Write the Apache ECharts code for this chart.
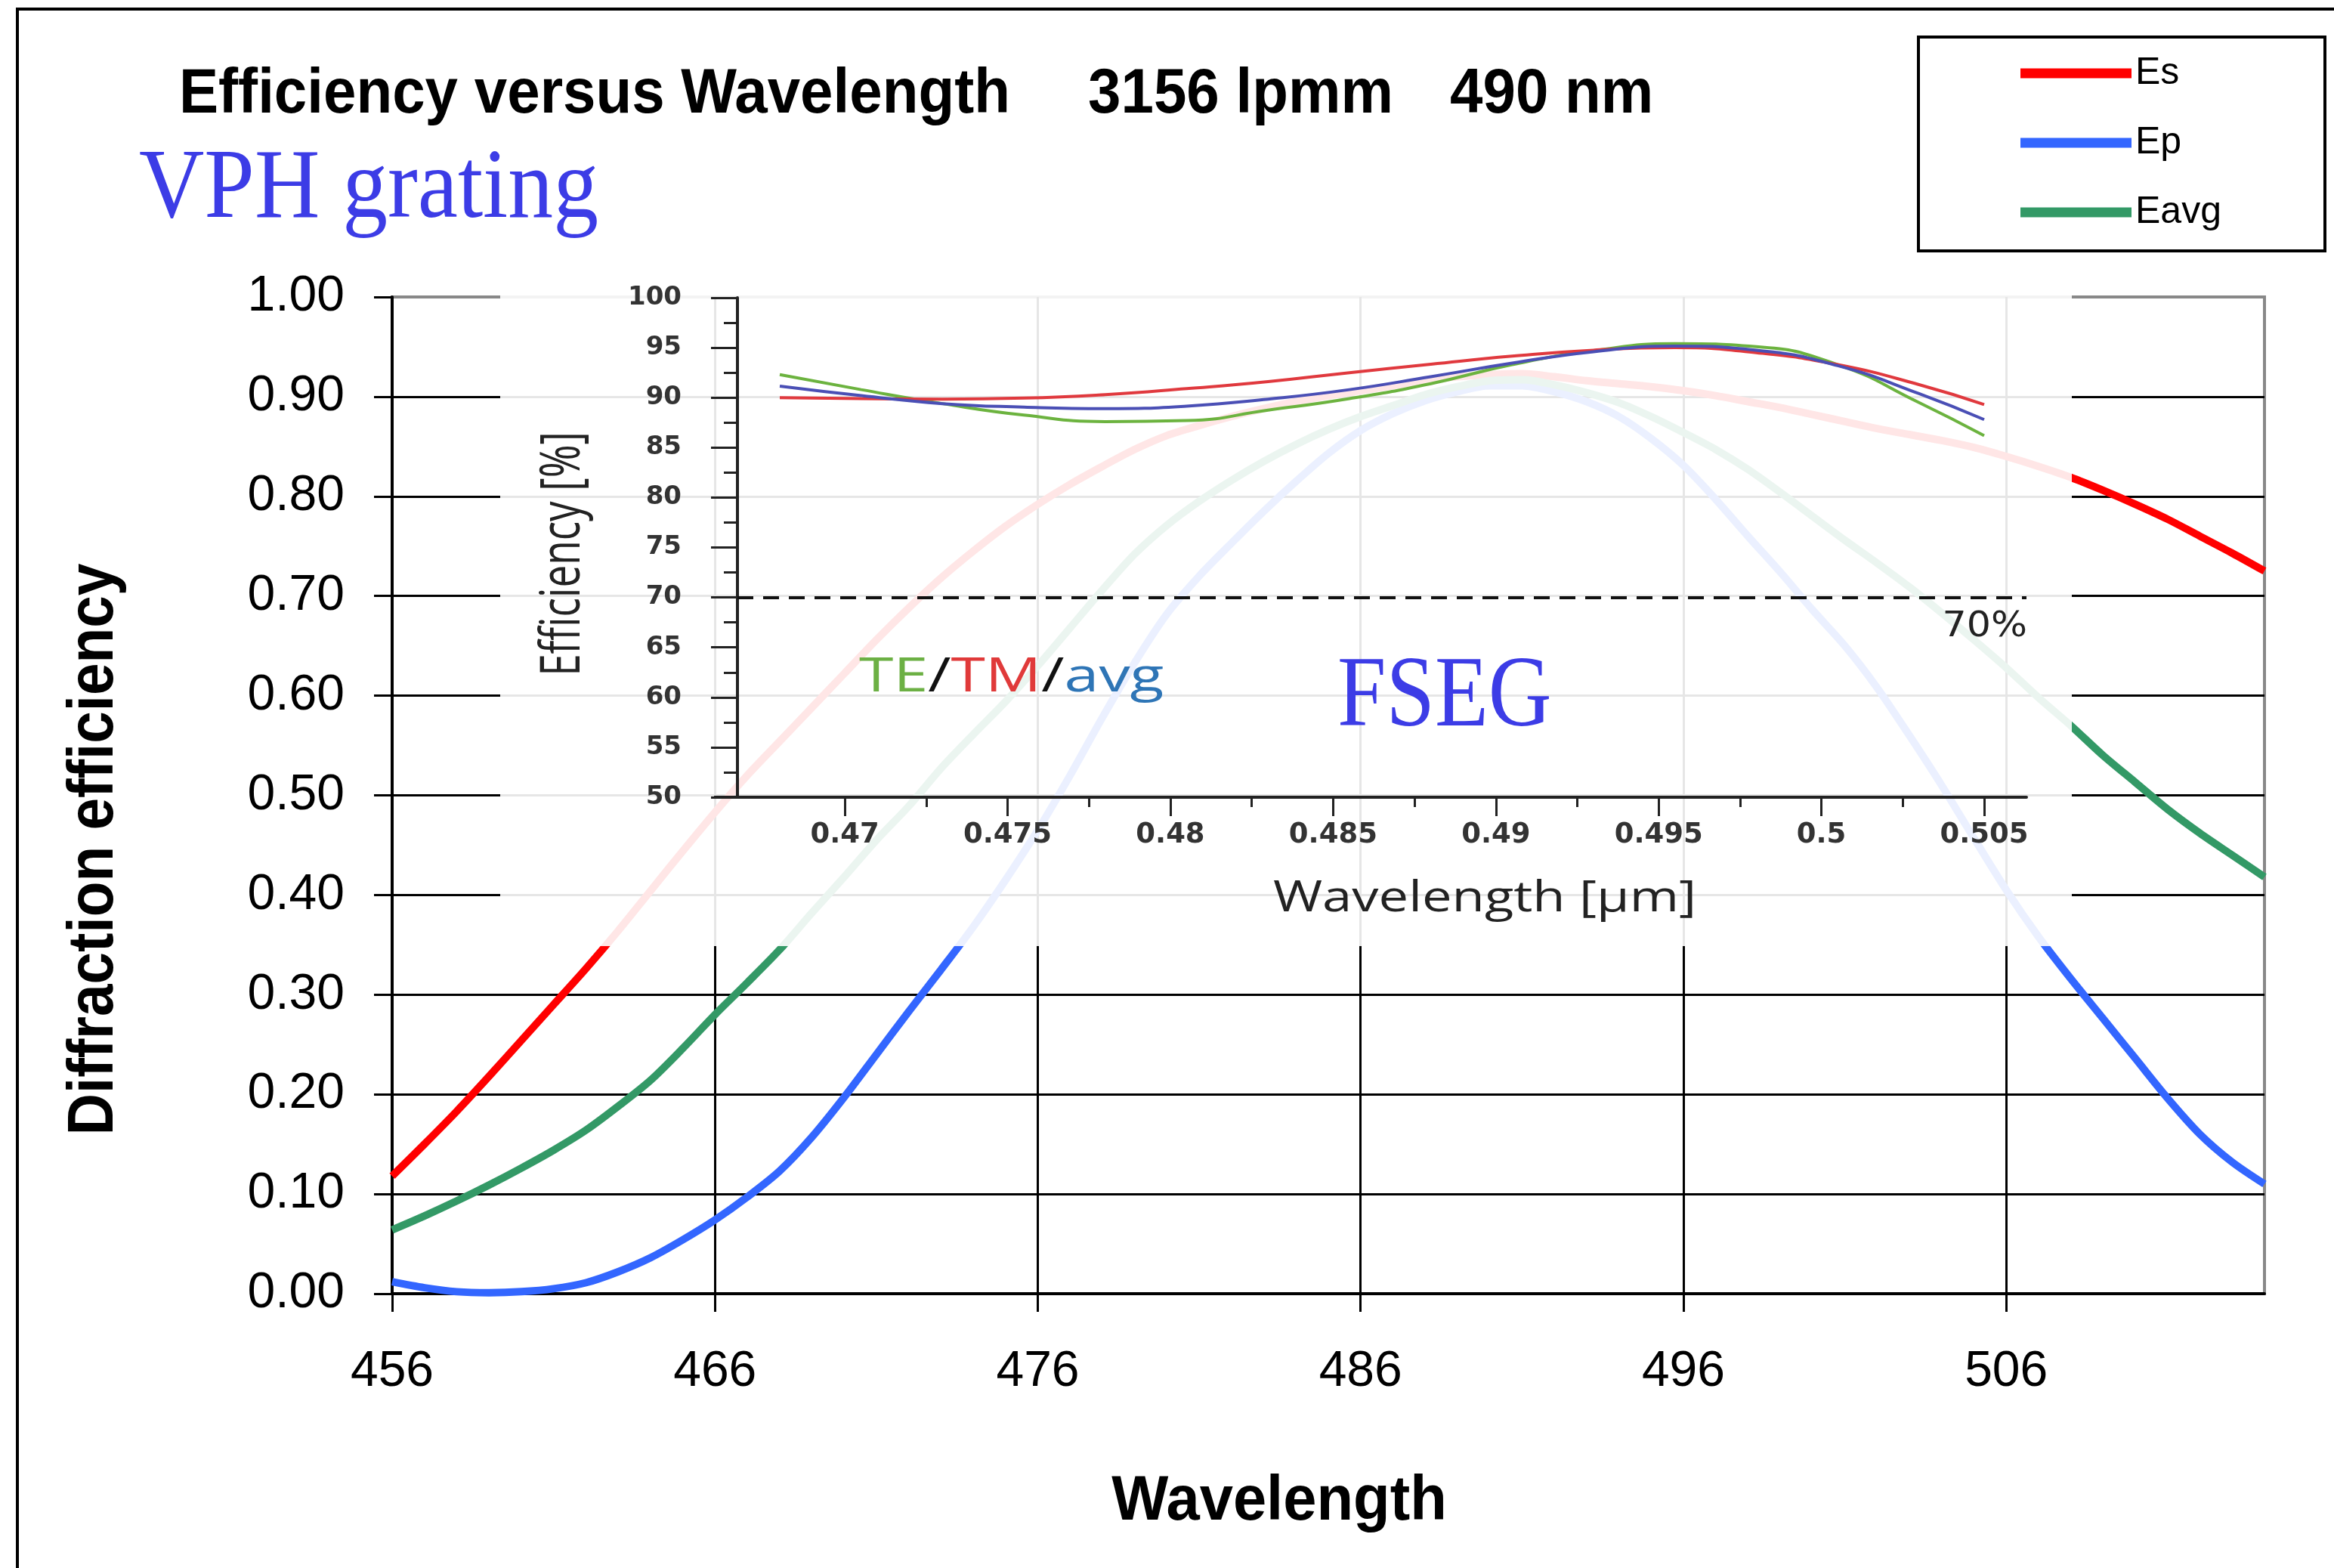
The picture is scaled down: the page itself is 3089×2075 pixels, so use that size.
<!DOCTYPE html>
<html><head><meta charset="utf-8">
<script src="https://cdn.jsdelivr.net/npm/echarts@6/dist/echarts.min.js"></script>
<style>html,body{margin:0;padding:0;background:#fff}#c{width:3089px;height:2075px}</style>
</head><body><div id="c"></div>
<script>
// ---- main chart data (wavelength in nm, efficiency 0..1) ----
const wavelengths = [456,457,458,459,460,461,462,463,464,465,466,467,468,469,470,471,472,473,474,475,476,477,478,479,480,481,482,483,484,485,486,487,488,489,490,491,492,493,494,495,496,497,498,499,500,501,502,503,504,505,506,507,508,509,510,511,512,513,514];
const esValues = [0.118,0.150,0.183,0.218,0.254,0.290,0.326,0.364,0.404,0.444,0.483,0.520,0.554,0.588,0.622,0.656,0.688,0.718,0.745,0.770,0.792,0.812,0.830,0.847,0.861,0.871,0.880,0.888,0.895,0.901,0.906,0.911,0.916,0.920,0.922,0.923,0.920,0.916,0.913,0.910,0.906,0.901,0.895,0.889,0.882,0.875,0.868,0.862,0.856,0.849,0.840,0.830,0.819,0.806,0.792,0.777,0.760,0.743,0.725];
const epValues = [0.012,0.006,0.002,0.001,0.002,0.005,0.011,0.022,0.036,0.054,0.074,0.097,0.123,0.157,0.197,0.240,0.283,0.325,0.368,0.415,0.465,0.520,0.578,0.633,0.682,0.720,0.753,0.785,0.815,0.843,0.866,0.883,0.896,0.905,0.911,0.911,0.905,0.895,0.880,0.858,0.831,0.797,0.760,0.724,0.686,0.650,0.608,0.560,0.510,0.457,0.405,0.358,0.316,0.276,0.236,0.196,0.160,0.132,0.110];
const eavgValues = [0.064,0.078,0.093,0.109,0.126,0.144,0.164,0.188,0.214,0.246,0.280,0.312,0.345,0.382,0.418,0.455,0.489,0.527,0.561,0.594,0.630,0.668,0.706,0.742,0.771,0.795,0.816,0.835,0.852,0.867,0.880,0.891,0.902,0.910,0.916,0.917,0.912,0.904,0.894,0.880,0.864,0.847,0.827,0.804,0.780,0.756,0.733,0.709,0.683,0.656,0.628,0.598,0.570,0.540,0.513,0.486,0.462,0.440,0.418];
const xTickValues = [456,466,476,486,496,506];

// ---- inset (FSEG) data (wavelength in um, efficiency %) ----
const insetWavelengths = [0.468,0.4705,0.473,0.4755,0.478,0.4805,0.483,0.4855,0.488,0.4905,0.493,0.4955,0.498,0.5005,0.503,0.505];
const teValues  = [92.3,90.8,89.4,88.25,87.6,87.7,88.75,89.9,91.4,93.3,94.7,95.4,95.1,93.3,89.5,86.2];
const tmValues  = [90.0,89.9,89.85,89.95,90.3,90.9,91.6,92.5,93.35,94.15,94.75,95.0,94.5,93.3,91.3,89.3];
const avgValues = [91.15,90.2,89.4,89.05,88.9,89.15,89.85,90.8,92.1,93.45,94.6,95.15,94.75,93.2,90.4,87.8];
const insetXTicks = [0.47,0.475,0.48,0.485,0.49,0.495,0.5,0.505];
const insetXMinorTicks = [0.4725,0.4775,0.4825,0.4875,0.4925,0.4975,0.5025];
const thresholdValue = 70;

const pairs = (xs, ys) => xs.map((x, i) => [x, ys[i]]);

const chart = echarts.init(document.getElementById('c'), null, {renderer: 'canvas', width: 3089, height: 2075});

const txt = (o) => Object.assign({type: 'text'}, o);

const option = {
  animation: false,
  backgroundColor: '#ffffff',
  legend: {
    data: ['Es', 'Ep', 'Eavg'],
    orient: 'vertical', left: 2674, top: 72, padding: 0, itemGap: 42,
    itemWidth: 147, itemHeight: 13, icon: 'rect', z: 5,
    textStyle: {fontFamily: 'Liberation Sans', fontSize: 50, color: '#000', lineHeight: 50}
  },
  grid: [
    {left: 519, right: 92, top: 393, bottom: 363, show: true, borderColor: '#888', borderWidth: 4, backgroundColor: 'transparent'},
    {left: 976, right: 407, top: 394, bottom: 1020}
  ],
  xAxis: [
    {type: 'value', gridIndex: 0, min: 456, max: 514, position: 'bottom',
     axisLine: {show: true, onZero: false, lineStyle: {color: '#000', width: 4}},
     axisTick: {show: true, length: 24, customValues: xTickValues, lineStyle: {color: '#000', width: 3}},
     axisLabel: {customValues: xTickValues, margin: 71, fontFamily: 'Liberation Sans', fontSize: 66, color: '#000'},
     splitLine: {show: true, lineStyle: {color: '#000', width: 3}}},
    {type: 'value', gridIndex: 1, min: 0.4667, max: 0.5063, position: 'bottom', z: 20,
     axisLine: {show: true, onZero: false, lineStyle: {color: '#222', width: 4}},
     axisTick: {show: true, length: 25, customValues: insetXTicks, lineStyle: {color: '#222', width: 3}},
     axisLabel: {customValues: insetXTicks, margin: 32, formatter: v => String(+(+v).toFixed(4)),
                 fontFamily: 'DejaVu Sans', fontWeight: 'bold', fontSize: 37, color: '#333'},
     splitLine: {show: false}},
    {type: 'value', gridIndex: 1, min: 0.4667, max: 0.5063, position: 'bottom', z: 20,
     axisLine: {show: false, onZero: false},
     axisTick: {show: true, length: 13, customValues: insetXMinorTicks, lineStyle: {color: '#222', width: 3}},
     axisLabel: {show: false}, splitLine: {show: false}}
  ],
  yAxis: [
    {type: 'value', gridIndex: 0, min: 0, max: 1, interval: 0.1,
     axisLine: {show: true, lineStyle: {color: '#000', width: 4}},
     axisTick: {show: true, length: 24, lineStyle: {color: '#000', width: 3}},
     axisLabel: {formatter: v => v.toFixed(2), margin: 63, fontFamily: 'Liberation Sans', fontSize: 66, color: '#000'},
     splitLine: {show: true, showMaxLine: false, lineStyle: {color: '#000', width: 3}}},
    {type: 'value', gridIndex: 1, min: 50, max: 100, interval: 5, z: 20,
     axisLine: {show: true, onZero: false, lineStyle: {color: '#222', width: 4}},
     axisTick: {show: true, length: 35, lineStyle: {color: '#222', width: 3}},
     minorTick: {show: true, splitNumber: 2, length: 18, lineStyle: {color: '#222', width: 3}},
     axisLabel: {margin: 74, fontFamily: 'DejaVu Sans', fontWeight: 'bold', fontSize: 34, color: '#333'},
     splitLine: {show: false}}
  ],
  series: [
    {type: 'line', name: 'Es', xAxisIndex: 0, yAxisIndex: 0, data: pairs(wavelengths, esValues), smooth: 0.3,
     symbol: 'none', showSymbol: false, lineStyle: {color: '#ff0000', width: 10}, itemStyle: {color: '#ff0000'}, z: 2},
    {type: 'line', name: 'Ep', xAxisIndex: 0, yAxisIndex: 0, data: pairs(wavelengths, epValues), smooth: 0.3,
     symbol: 'none', showSymbol: false, lineStyle: {color: '#3366ff', width: 10}, itemStyle: {color: '#3366ff'}, z: 2},
    {type: 'line', name: 'Eavg', xAxisIndex: 0, yAxisIndex: 0, data: pairs(wavelengths, eavgValues), smooth: 0.3,
     symbol: 'none', showSymbol: false, lineStyle: {color: '#339966', width: 10}, itemStyle: {color: '#339966'}, z: 2},
    {type: 'line', name: 'TE', xAxisIndex: 1, yAxisIndex: 1, data: pairs(insetWavelengths, teValues),
     smooth: 0.5, symbol: 'none', lineStyle: {color: '#6cb33f', width: 4}, z: 20,
     markLine: {silent: true, z: 25, symbol: 'none', label: {show: false},
                lineStyle: {type: [21, 13], color: '#111', width: 4, opacity: 1}, data: [{yAxis: thresholdValue}]}},
    {type: 'line', name: 'TM', xAxisIndex: 1, yAxisIndex: 1, data: pairs(insetWavelengths, tmValues),
     smooth: 0.5, symbol: 'none', lineStyle: {color: '#e0393e', width: 4}, z: 20},
    {type: 'line', name: 'avg', xAxisIndex: 1, yAxisIndex: 1, data: pairs(insetWavelengths, avgValues),
     smooth: 0.5, symbol: 'none', lineStyle: {color: '#4a4fb5', width: 4}, z: 20}
  ],
  graphic: {elements: [
    {type: 'rect', z: 0, shape: {x: 23, y: 12, width: 3300, height: 2300}, style: {fill: 'none', stroke: '#000', lineWidth: 4}},
    txt({x: 237, y: 126, scaleX: 0.93, z: 5, style: {text: 'Efficiency versus Wavelength', fontFamily: 'Liberation Sans', fontWeight: 'bold', fontSize: 84, fill: '#000', align: 'left', textAlign: 'left', verticalAlign: 'middle', textVerticalAlign: 'middle'}}),
    txt({x: 1440, y: 126, scaleX: 0.93, z: 5, style: {text: '3156 lpmm', fontFamily: 'Liberation Sans', fontWeight: 'bold', fontSize: 84, fill: '#000', align: 'left', textAlign: 'left', verticalAlign: 'middle', textVerticalAlign: 'middle'}}),
    txt({x: 1919, y: 126, scaleX: 0.93, z: 5, style: {text: '490 nm', fontFamily: 'Liberation Sans', fontWeight: 'bold', fontSize: 84, fill: '#000', align: 'left', textAlign: 'left', verticalAlign: 'middle', textVerticalAlign: 'middle'}}),
    txt({x: 184, y: 253, scaleX: 0.913, z: 5, style: {text: 'VPH grating', fontFamily: 'Liberation Serif', fontSize: 131, fill: '#3c3ce6', align: 'left', textAlign: 'left', verticalAlign: 'middle', textVerticalAlign: 'middle'}}),
    {type: 'rect', z: 1, shape: {x: 2539, y: 49, width: 538, height: 283}, style: {fill: '#fff', stroke: '#000', lineWidth: 4}},
    txt({x: 126, y: 1124, rotation: Math.PI / 2, scaleX: 0.9, z: 5, style: {text: 'Diffraction efficiency', fontFamily: 'Liberation Sans', fontWeight: 'bold', fontSize: 85, fill: '#000', align: 'center', textAlign: 'center', verticalAlign: 'middle', textVerticalAlign: 'middle'}}),
    txt({x: 1693, y: 1988, scaleX: 0.947, z: 5, style: {text: 'Wavelength', fontFamily: 'Liberation Sans', fontWeight: 'bold', fontSize: 84, fill: '#000', align: 'center', textAlign: 'center', verticalAlign: 'middle', textVerticalAlign: 'middle'}}),
    {type: 'rect', z: 10, shape: {x: 662, y: 355, width: 2080, height: 897}, style: {fill: 'rgba(255,255,255,0.9)'}},
    {type: 'line', z: 22, shape: {x1: 945, y1: 1055, x2: 980, y2: 1055}, style: {stroke: '#222', lineWidth: 4}},
    txt({x: 746, y: 733, rotation: Math.PI / 2, scaleY: 1.37, z: 30, style: {text: 'Efficiency [%]', fontFamily: 'Open Sans', fontSize: 53, fill: '#222', align: 'center', textAlign: 'center', verticalAlign: 'middle', textVerticalAlign: 'middle'}}),
    txt({x: 1965, y: 1190, scaleX: 1.26, z: 30, style: {text: 'Wavelength [\u03bcm]', fontFamily: 'Open Sans', fontSize: 56, fill: '#222', align: 'center', textAlign: 'center', verticalAlign: 'middle', textVerticalAlign: 'middle'}}),
    txt({x: 1137, y: 897, scaleX: 1.31, z: 30, style: {
      text: '{g|TE}{k|/}{r|TM}{k|/}{b|avg}', fontFamily: 'Open Sans', fontSize: 63, align: 'left', textAlign: 'left', verticalAlign: 'middle', textVerticalAlign: 'middle',
      rich: {g: {fill: '#6cb044', fontFamily: 'Open Sans', fontSize: 63}, k: {fill: '#111', fontFamily: 'Open Sans', fontSize: 63},
             r: {fill: '#e03a3a', fontFamily: 'Open Sans', fontSize: 63}, b: {fill: '#2e75b6', fontFamily: 'Open Sans', fontSize: 63}}}}),
    txt({x: 1770, y: 925, scaleX: 0.872, z: 30, style: {text: 'FSEG', fontFamily: 'Liberation Serif', fontSize: 133, fill: '#3c3ce6', align: 'left', textAlign: 'left', verticalAlign: 'middle', textVerticalAlign: 'middle'}}),
    txt({x: 2683, y: 830, scaleX: 1.1, z: 30, style: {text: '70%', fontFamily: 'DejaVu Sans', fontSize: 46, fill: '#222', align: 'right', textAlign: 'right', verticalAlign: 'middle', textVerticalAlign: 'middle'}})
  ]}
};
chart.setOption(option);
</script>
</body></html>
